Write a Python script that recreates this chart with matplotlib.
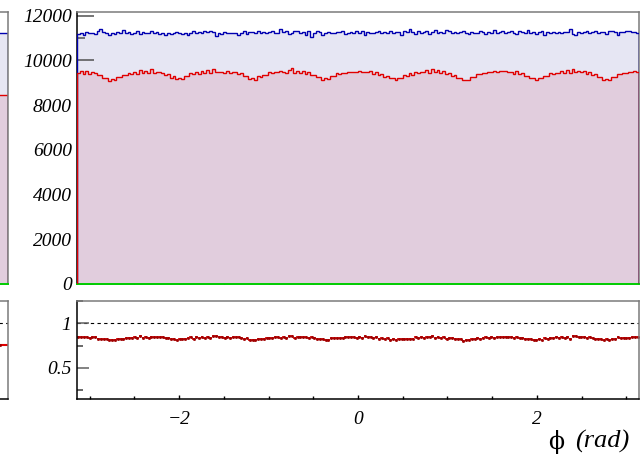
import numpy as np
import matplotlib
matplotlib.use("Agg")
import matplotlib.pyplot as plt
from matplotlib.ticker import MultipleLocator

# -----------------------------
# data: phi histograms, 200 bins over [-pi, pi]
# -----------------------------
blue_counts = [
    11180, 11230, 11150, 11260, 11200, 11240, 11170, 11290, 11380, 11250, 11200, 11130, 11210, 11170, 11280, 11230, 11350, 11220, 11260, 11160,
    11240, 11320, 11180, 11250, 11200, 11210, 11290, 11230, 11270, 11190, 11230, 11150, 11200, 11180, 11230, 11260, 11210, 11190, 11230, 11150,
    11200, 11300, 11240, 11280, 11220, 11300, 11260, 11330, 11250, 11070, 11200, 11180, 11250, 11230, 11230, 11230, 11230, 11140, 11230, 11290,
    11160, 11250, 11280, 11210, 11300, 11240, 11280, 11200, 11270, 11300, 11230, 11220, 11410, 11260, 11300, 11180, 11230, 11330, 11300, 11200,
    11280, 11150, 11320, 11030, 11230, 11300, 11260, 11120, 11240, 11270, 11200, 11210, 11260, 11250, 11310, 11180, 11230, 11260, 11200, 11300,
    11200, 11290, 11150, 11260, 11240, 11230, 11260, 11300, 11230, 11270, 11200, 11330, 11230, 11260, 11280, 11150, 11300, 11250, 11420, 11280,
    11160, 11300, 11240, 11280, 11300, 11180, 11260, 11340, 11230, 11260, 11230, 11350, 11300, 11220, 11280, 11200, 11250, 11300, 11230, 11170,
    11250, 11220, 11230, 11320, 11260, 11170, 11280, 11240, 11360, 11230, 11250, 11300, 11200, 11260, 11300, 11240, 11180, 11290, 11270, 11220,
    11340, 11230, 11280, 11190, 11250, 11300, 11150, 11260, 11230, 11280, 11230, 11250, 11200, 11260, 11280, 11400, 11160, 11110, 11250, 11230,
    11270, 11290, 11210, 11250, 11320, 11200, 11270, 11260, 11180, 11300, 11330, 11250, 11150, 11270, 11250, 11290, 11300, 11250, 11270, 11240,
]
red_counts = [
    9440, 9520, 9400, 9530, 9410, 9490, 9420, 9330, 9360, 9220, 9230, 9090, 9150, 9110, 9260, 9250, 9340, 9330, 9450, 9380,
    9500, 9410, 9560, 9440, 9530, 9420, 9600, 9450, 9490, 9470, 9440, 9350, 9370, 9220, 9280, 9150, 9190, 9160, 9280, 9290,
    9420, 9370, 9500, 9410, 9540, 9440, 9580, 9450, 9600, 9470, 9500, 9490, 9420, 9530, 9430, 9460, 9500, 9380, 9420, 9300,
    9300, 9170, 9190, 9130, 9280, 9260, 9330, 9350, 9460, 9430, 9490, 9470, 9510, 9500, 9450, 9550, 9640, 9450, 9540, 9430,
    9510, 9400, 9480, 9350, 9360, 9250, 9240, 9130, 9190, 9180, 9310, 9300, 9420, 9390, 9440, 9450, 9490, 9470, 9500, 9490,
    9530, 9480, 9500, 9470, 9510, 9400, 9480, 9350, 9390, 9270, 9290, 9200, 9220, 9120, 9230, 9200, 9340, 9320, 9440, 9350,
    9480, 9450, 9460, 9470, 9580, 9450, 9630, 9470, 9560, 9430, 9510, 9390, 9440, 9320, 9340, 9220, 9210, 9100, 9120, 9120,
    9260, 9250, 9370, 9370, 9420, 9420, 9470, 9470, 9510, 9500, 9530, 9530, 9510, 9470, 9500, 9410, 9510, 9370, 9420, 9300,
    9310, 9190, 9210, 9120, 9220, 9200, 9320, 9320, 9420, 9400, 9440, 9440, 9540, 9420, 9560, 9450, 9600, 9470, 9510, 9490,
    9520, 9400, 9490, 9350, 9370, 9250, 9250, 9140, 9160, 9130, 9270, 9270, 9390, 9370, 9420, 9420, 9470, 9460, 9510, 9490,
]
# neighbouring panel (only its right edge is visible)
left_blue = [11230, 11260, 11200]
left_red = [8480, 8450, 8430]

x_ticks = [-2, 0, 2]
y_ticks_main = [0, 2000, 4000, 6000, 8000, 10000, 12000]
y_ticks_ratio = [0.5, 1]

BLUE_FILL = "#e6e6f3"
RED_FILL = "#e1cddd"
FRAME_GREY = "#7a7a7a"
SERIF = ["Liberation Serif", "DejaVu Serif"]

plt.rcParams["font.family"] = SERIF
plt.rcParams["font.style"] = "italic"
plt.rcParams["axes.unicode_minus"] = True

blue = np.array(blue_counts, dtype=float)
red = np.array(red_counts, dtype=float)
edges = np.linspace(-np.pi, np.pi, len(blue) + 1)
centers = 0.5 * (edges[1:] + edges[:-1])
half_w = 0.5 * (edges[1] - edges[0])
ratio = red / blue
ratio_err = ratio * np.sqrt(1 / red + 1 / blue) * 0.3

W, H = 644, 462
fig = plt.figure(figsize=(W / 100, H / 100), dpi=100)


def fbox(x0, y0, x1, y1):
    # pixel box (top-left origin) -> figure coords
    return [x0 / W, 1 - y1 / H, (x1 - x0) / W, (y1 - y0) / H]


def style_frame(ax, bottom_color):
    ax.spines["left"].set_color("black")
    ax.spines["top"].set_color(FRAME_GREY)
    ax.spines["right"].set_color(FRAME_GREY)
    ax.spines["bottom"].set_color(bottom_color)
    for s in ax.spines.values():
        s.set_linewidth(1.1)


# -----------------------------
# main panel
# -----------------------------
ax = fig.add_axes(fbox(77, 12, 639, 284))
ax.stairs(blue, edges, fill=True, color=BLUE_FILL, zorder=1)
ax.stairs(red, edges, fill=True, color=RED_FILL, zorder=2)
ax.stairs(blue, edges, color="#0000b0", lw=1.0, zorder=3)
ax.stairs(red, edges, color="#e00000", lw=1.0, zorder=3)
ax.set_xlim(-np.pi, np.pi)
ax.set_ylim(0, 12160)
ax.set_yticks(y_ticks_main)
ax.yaxis.set_minor_locator(MultipleLocator(1000))
ax.set_xticks(x_ticks)
ax.xaxis.set_minor_locator(MultipleLocator(0.5))
ax.tick_params(axis="y", which="major", direction="in", length=12, width=1.1, color="#505050",
               labelsize=14, pad=3.6)
ax.tick_params(axis="y", which="minor", direction="in", length=6, width=1.1, color="#505050")
ax.tick_params(axis="x", which="major", direction="in", length=6, width=1.0, labelbottom=False)
ax.tick_params(axis="x", which="minor", direction="in", length=3, width=1.0)
style_frame(ax, "#00cc00")
ax.spines["bottom"].set_linewidth(1.4)

# -----------------------------
# ratio panel
# -----------------------------
axr = fig.add_axes(fbox(77, 300.7, 639, 399))
axr.axhline(1.0, color="black", ls=(0, (3, 3)), lw=0.8, zorder=1)
axr.errorbar(centers, ratio, xerr=half_w, yerr=ratio_err, fmt="s", ms=1.0,
             color="#e00000", mfc="#a00000", mec="#a00000", elinewidth=1.2, capsize=0, zorder=2)
axr.set_xlim(-np.pi, np.pi)
axr.set_ylim(0.148, 1.255)
axr.set_yticks(y_ticks_ratio)
axr.set_yticklabels(["0.5", "1"])
axr.yaxis.set_minor_locator(MultipleLocator(0.25))
axr.set_xticks(x_ticks)
axr.xaxis.set_minor_locator(MultipleLocator(0.5))
axr.tick_params(axis="y", which="major", direction="in", length=8.6, width=1.1, color="#606060",
                labelsize=14, pad=4.2)
axr.tick_params(axis="y", which="minor", direction="in", length=4.3, width=1.1, color="#404040")
axr.tick_params(axis="x", which="major", direction="in", length=3, width=1.0, labelsize=14, pad=8.5)
axr.tick_params(axis="x", which="minor", direction="in", length=2, width=1.0)
style_frame(axr, "black")

fig.text(564 / W, 1 - 442 / H, "ϕ", fontsize=17, fontstyle="normal", family=["DejaVu Serif"],
         ha="right", va="center")
fig.text(629 / W, 1 - 441 / H, "(rad)", fontsize=19, ha="right", va="center")

# -----------------------------
# neighbouring panel edge on the left
# -----------------------------
lx = np.arange(len(left_blue) + 1)
axl = fig.add_axes(fbox(-40, 12, 8.3, 284))
axl.stairs(left_blue, lx, fill=True, color=BLUE_FILL)
axl.stairs(left_red, lx, fill=True, color=RED_FILL)
axl.stairs(left_blue, lx, color="#0000b0", lw=1.0)
axl.stairs(left_red, lx, color="#e00000", lw=1.0)
axl.set_xlim(0, len(left_blue))
axl.set_ylim(0, 12160)
axl.set_xticks([])
axl.set_yticks([])
style_frame(axl, "#00cc00")
axl.spines["bottom"].set_linewidth(1.4)

left_ratio = np.array(left_red) / np.array(left_blue)
axlr = fig.add_axes(fbox(-40, 300.7, 8.3, 399))
axlr.axhline(1.0, color="black", ls=(0, (3, 3)), lw=0.8)
axlr.errorbar(lx[:-1] + 0.5, left_ratio, xerr=0.5, fmt="s", ms=1.0, color="#e00000",
              mfc="#a00000", mec="#a00000", capsize=0)
axlr.set_xlim(0, len(left_blue))
axlr.set_ylim(0.148, 1.255)
axlr.set_xticks([])
axlr.set_yticks([])
style_frame(axlr, "black")

fig.savefig("out.png", dpi=100)
